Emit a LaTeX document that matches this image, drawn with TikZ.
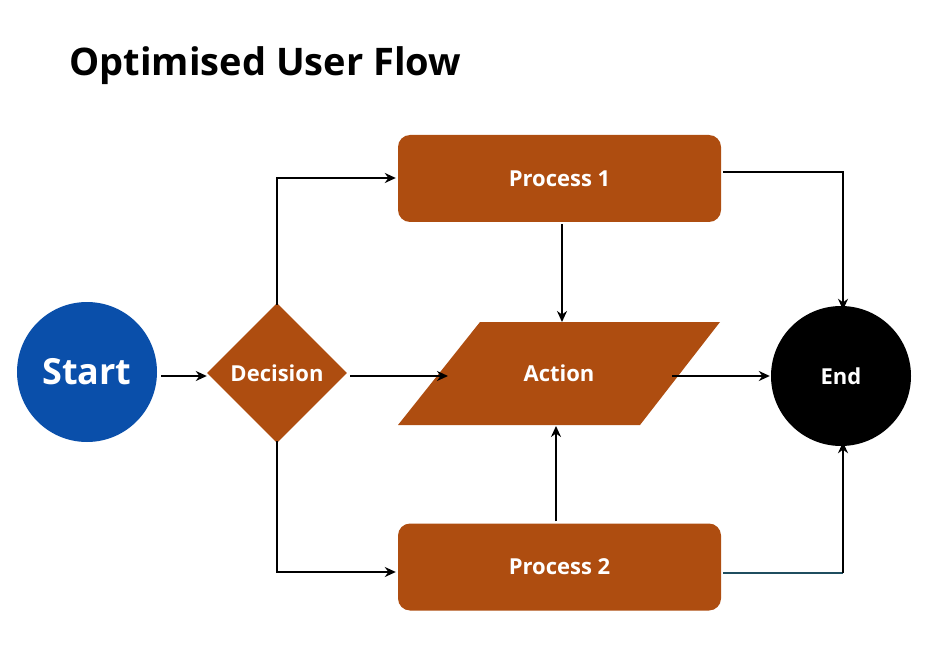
\documentclass[tikz,border=0pt]{standalone}
\usepackage{fontspec}
\setmainfont{Open Sans}
\usetikzlibrary{shapes.geometric,arrows.meta}
\definecolor{rust}{HTML}{AE4D10}
\definecolor{startblue}{HTML}{0A4FAA}
\definecolor{teal}{HTML}{1F4E5F}
\begin{document}
\begin{tikzpicture}[x=1pt,y=-1pt,
  lbl/.style={text=white,font=\bfseries\fontsize{22}{26}\selectfont},
  proc/.style={lbl,fill=rust,rounded corners=12pt,minimum width=323pt,minimum height=87pt},
  conn/.style={draw=black,line width=2.6pt,-{Stealth[length=11pt,width=10pt]}},
  plain/.style={line width=2.6pt}]
\useasboundingbox (0,0) rectangle (930,650);
\node[anchor=west,font=\bfseries\fontsize{38}{44}\selectfont] (title) at (66,66) {Optimised User Flow};
\node[circle,fill=startblue,minimum size=140pt,text=white,font=\bfseries\fontsize{36}{40}\selectfont] (start) at (87,372) {Start};
\node[diamond,fill=rust,minimum width=140pt,minimum height=140pt,inner sep=0pt] (dec) at (277,373) {};
\node[lbl] at (277,373) {Decision};
\node[proc] (p1) at (559.5,178.5) {Process 1};
\node[proc] (p2) at (559.5,567) {Process 2};
\fill[rust] (480,322) -- (720,322) -- (640,425) -- (398,425) -- cycle;
\node[lbl] (act) at (559,373) {Action};
\node[circle,fill=black,minimum size=140pt,lbl] (end) at (841,376) {End};
% connectors
\coordinate (actT) at (562,322);
\coordinate (actB) at (556,426);
\coordinate (actL) at (448,376);
\coordinate (actR) at (672,376);
\draw[conn] (start.east|-0,376) ++(4,0) -- (dec.west|-0,376);
\draw[conn] ([yshift=-2pt]dec.north) |- ([xshift=-2pt]p1.west|-0,178);
\draw[conn] ([yshift=2pt]dec.south) |- ([xshift=-2pt]p2.west|-0,572);
\draw[conn] ([xshift=3pt]dec.east|-0,376) -- (actL);
\draw[conn] (p1.south-|actT) ++(0,2) -- (actT);
\draw[conn] (p2.north-|actB) ++(0,-2) -- (actB);
\draw[conn] (actR) -- ([xshift=-1pt]end.west|-0,376);
\draw[conn] ([xshift=2pt]p1.east|-0,172) -| ([yshift=-4pt]end.north-|843,0);
\draw[plain,teal] ([xshift=2pt]p2.east|-0,573) -- (843,573) coordinate (p2r);
\draw[conn] (p2r) -- ([yshift=4pt]end.south-|843,0);
\end{tikzpicture}
\end{document}
